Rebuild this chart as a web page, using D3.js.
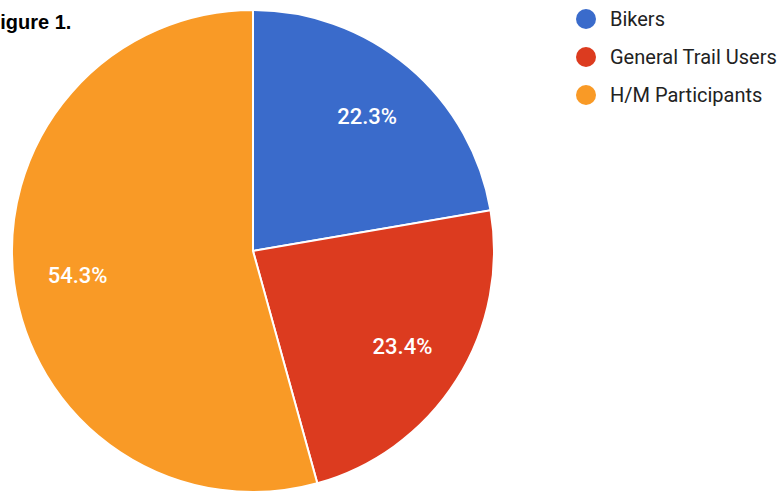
<!DOCTYPE html>
<html lang="en">
<head>
  <meta charset="UTF-8">
  <title>Figure 1</title>
  <style>
    html, body { margin: 0; padding: 0; background: #fff; overflow: hidden; }
    svg { display: block; font-family: Roboto, Arial, sans-serif; }
  </style>
</head>
<body>
<svg width="782" height="492"></svg>

<script src="https://cdn.jsdelivr.net/npm/d3@7"></script>
<script>
  var categories = ['Bikers', 'General Trail Users', 'H/M Participants'];
  var values = [22.3, 23.4, 54.3];
  var labels = ['22.3%', '23.4%', '54.3%'];
  var colors = ['#3a6bcb', '#dc3b1f', '#f99a26'];

  var svg = d3.select('svg');
  var cx = 253, cy = 251, radius = 241, labelRadius = 177;

  // title (cut off at left edge as in the original)
  svg.append('text')
    .attr('x', -12).attr('y', 29)
    .attr('font-size', 20).attr('font-weight', 'bold')
    .attr('font-family', '"Liberation Sans", Helvetica, Arial, sans-serif')
    .attr('fill', '#000')
    .text('Figure 1.');

  var pie = d3.pie().sort(null).value(function (d) { return d; });
  var arcs = pie(values);
  var arc = d3.arc().innerRadius(0).outerRadius(radius);
  var labelArc = d3.arc().innerRadius(labelRadius).outerRadius(labelRadius);

  var g = svg.append('g').attr('transform', `translate(${cx}, ${cy})`);

  g.selectAll('path').data(arcs).enter().append('path')
    .attr('d', arc)
    .attr('fill', function (d, i) { return colors[i]; })
    .attr('stroke', '#fff')
    .attr('stroke-width', 2);

  g.selectAll('text.lbl').data(arcs).enter().append('text')
    .attr('class', 'lbl')
    .attr('transform', function (d) { return `translate(${labelArc.centroid(d)})`; })
    .attr('text-anchor', 'middle')
    .attr('dy', '0.36em')
    .attr('font-size', 22)
    .attr('font-weight', 500)
    .attr('fill', '#fff')
    .text(function (d, i) { return labels[i]; });

  // legend
  var legend = svg.append('g').attr('transform', 'translate(586, 19)');
  var items = legend.selectAll('g').data(categories).enter().append('g')
    .attr('transform', function (d, i) { return `translate(0, ${i * 38})`; });
  items.append('circle')
    .attr('r', 10)
    .attr('fill', function (d, i) { return colors[i]; });
  items.append('text')
    .attr('x', 24).attr('dy', '0.36em')
    .attr('font-size', 20)
    .attr('fill', '#222')
    .text(function (d) { return d; });
</script>
</body>
</html>
